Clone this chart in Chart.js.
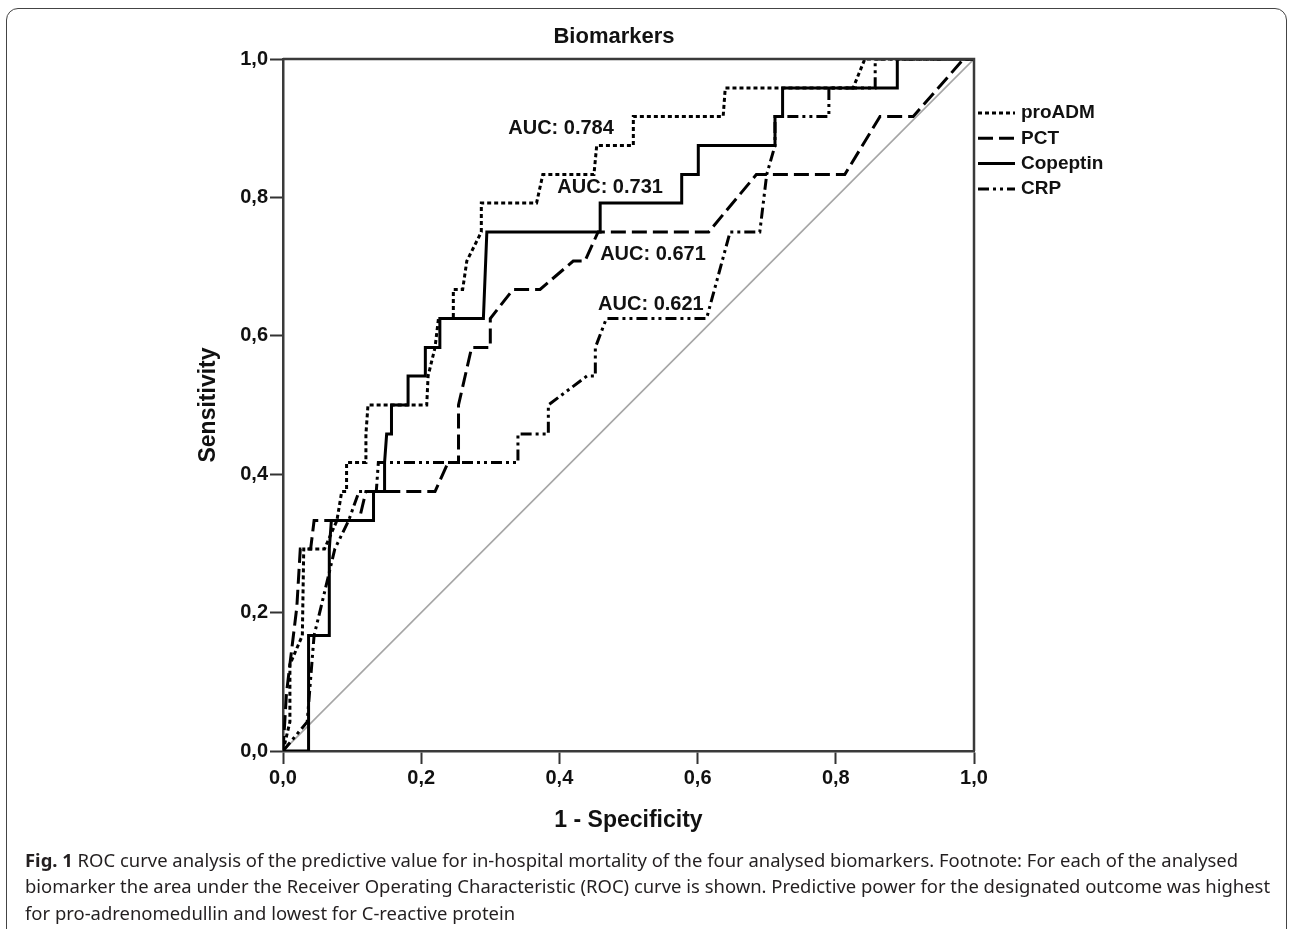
<!DOCTYPE html>
<html>
<head>
<meta charset="utf-8">
<script src="https://cdn.jsdelivr.net/npm/chart.js@4.4.0/dist/chart.umd.min.js"></script>
<style>
  body { margin: 0; background: #fff; }
  #wrap { position: relative; width: 1292px; height: 929px; overflow: hidden; }
  #frame { position: absolute; left: 6px; top: 8px; width: 1279px; height: 940px; border: 1.5px solid #444; border-radius: 12px; }
  #chart { position: absolute; left: 0; top: 0; }
  #caption { position: absolute; left: 25px; top: 847px; font-family: 'Noto Sans', sans-serif; font-size: 18.45px; line-height: 26.3px; color: #231f20; white-space: nowrap; }
</style>
</head>
<body>
<div id="wrap">
  <div id="frame"></div>
  <canvas id="chart" width="1292" height="850"></canvas>
  <div id="caption"><b>Fig. 1</b> ROC curve analysis of the predictive value for in-hospital mortality of the four analysed biomarkers. Footnote: For each of the analysed<br>biomarker the area under the Receiver Operating Characteristic (ROC) curve is shown. Predictive power for the designated outcome was highest<br>for pro-adrenomedullin and lowest for C-reactive protein</div>
</div>
<script>
// tick labels (SPSS style, decimal comma)
const tickText = ['0,0', '0,2', '0,4', '0,6', '0,8', '1,0'];

// ROC curves: 1 - specificity (x) and sensitivity (y)
const proadmX = [0, 0.01, 0.01, 0.028, 0.03, 0.06, 0.078, 0.085, 0.092, 0.092, 0.12, 0.12, 0.123, 0.208, 0.21, 0.22, 0.225, 0.2465, 0.2465, 0.26, 0.266, 0.287, 0.287, 0.367, 0.376, 0.45, 0.454, 0.507, 0.507, 0.637, 0.64, 0.825, 0.842, 1];
const proadmY = [0, 0.042, 0.125, 0.167, 0.292, 0.292, 0.333, 0.375, 0.375, 0.417, 0.417, 0.458, 0.5, 0.5, 0.542, 0.583, 0.625, 0.625, 0.667, 0.667, 0.708, 0.75, 0.792, 0.792, 0.833, 0.833, 0.875, 0.875, 0.917, 0.917, 0.958, 0.958, 1, 1];

const pctX = [0, 0.005, 0.01, 0.02, 0.025, 0.04, 0.045, 0.11, 0.12, 0.22, 0.239, 0.254, 0.254, 0.273, 0.30, 0.30, 0.333, 0.372, 0.42, 0.437, 0.456, 0.616, 0.685, 0.813, 0.864, 0.912, 0.985, 1];
const pctY = [0, 0.083, 0.125, 0.208, 0.292, 0.292, 0.333, 0.333, 0.375, 0.375, 0.417, 0.417, 0.5, 0.583, 0.583, 0.625, 0.667, 0.667, 0.708, 0.708, 0.75, 0.75, 0.833, 0.833, 0.917, 0.917, 1, 1];

const copeptinX = [0, 0.037, 0.037, 0.067, 0.067, 0.07, 0.131, 0.131, 0.147, 0.147, 0.15, 0.157, 0.157, 0.181, 0.181, 0.206, 0.206, 0.227, 0.227, 0.29, 0.295, 0.459, 0.459, 0.577, 0.577, 0.601, 0.601, 0.712, 0.712, 0.723, 0.723, 0.889, 0.889, 1];
const copeptinY = [0, 0, 0.167, 0.167, 0.292, 0.333, 0.333, 0.375, 0.375, 0.417, 0.458, 0.458, 0.5, 0.5, 0.542, 0.542, 0.583, 0.583, 0.625, 0.625, 0.75, 0.75, 0.792, 0.792, 0.833, 0.833, 0.875, 0.875, 0.917, 0.917, 0.958, 0.958, 1, 1];

const crpX = [0, 0.035, 0.045, 0.055, 0.065, 0.075, 0.095, 0.11, 0.135, 0.138, 0.34, 0.34, 0.384, 0.384, 0.44, 0.452, 0.452, 0.468, 0.613, 0.647, 0.69, 0.70, 0.712, 0.712, 0.79, 0.79, 0.857, 0.857, 1];
const crpY = [0, 0.042, 0.167, 0.208, 0.25, 0.292, 0.333, 0.375, 0.375, 0.417, 0.417, 0.458, 0.458, 0.5, 0.542, 0.542, 0.583, 0.625, 0.625, 0.75, 0.75, 0.833, 0.875, 0.917, 0.917, 0.958, 0.958, 1, 1];

// reference line
const refX = [0, 1];
const refY = [0, 1];

const seriesNames = ['proADM', 'PCT', 'Copeptin', 'CRP'];
const aucText = ['AUC: 0.784', 'AUC: 0.731', 'AUC: 0.671', 'AUC: 0.621'];

// label anchors (data units, left edge / middle)
const aucAnchors = [[0.326, 0.899], [0.397, 0.814], [0.459, 0.717], [0.456, 0.645]];

const FONT = "'Liberation Sans', Arial, sans-serif";
const dashes = [[4, 3], [15, 6], [], [11, 4, 3, 4, 3, 4]];

function pts(xs, ys) {
    return xs.map((v, i) => ({ x: v, y: ys[i] }));
}

function lineSet(label, xs, ys, dash) {
    return {
        label: label,
        data: pts(xs, ys),
        borderColor: '#000',
        borderWidth: 3,
        borderDash: dash,
        borderCapStyle: 'butt',
        borderJoinStyle: 'miter',
        pointRadius: 0,
        tension: 0,
        fill: false
    };
}

const decoPlugin = {
    id: 'deco',
    afterDraw(chart) {
        const { ctx, chartArea: a, scales: { x, y } } = chart;
        ctx.save();

        // top + right frame of plot
        ctx.strokeStyle = '#3a3a3a';
        ctx.lineWidth = 2.5;
        ctx.beginPath();
        ctx.moveTo(a.left, a.top);
        ctx.lineTo(a.right, a.top);
        ctx.lineTo(a.right, a.bottom);
        ctx.stroke();

        ctx.fillStyle = '#111';
        ctx.textBaseline = 'middle';

        // title
        ctx.font = 'bold 22px ' + FONT;
        ctx.textAlign = 'center';
        ctx.fillText('Biomarkers', 614, 37);

        // axis titles
        ctx.font = 'bold 23px ' + FONT;
        ctx.fillText('1 - Specificity', (a.left + a.right) / 2, 821);
        ctx.save();
        ctx.translate(209, (a.top + a.bottom) / 2);
        ctx.rotate(-Math.PI / 2);
        ctx.fillText('Sensitivity', 0, 0);
        ctx.restore();

        // AUC labels
        ctx.font = 'bold 20px ' + FONT;
        ctx.textAlign = 'left';
        aucText.forEach((t, i) => {
            ctx.fillText(t, x.getPixelForValue(aucAnchors[i][0]), y.getPixelForValue(aucAnchors[i][1]));
        });

        // legend
        ctx.font = 'bold 19px ' + FONT;
        const lx = a.right + 4;
        seriesNames.forEach((name, i) => {
            const ly = 113 + i * 25.3;
            ctx.strokeStyle = '#000';
            ctx.lineWidth = 3;
            ctx.setLineDash(dashes[i]);
            ctx.beginPath();
            ctx.moveTo(lx, ly);
            ctx.lineTo(lx + 37, ly);
            ctx.stroke();
            ctx.setLineDash([]);
            ctx.fillText(name, lx + 43, ly);
        });

        ctx.restore();
    }
};

const axisFont = { family: FONT, size: 20, weight: 'bold' };

new Chart(document.getElementById('chart').getContext('2d'), {
    type: 'line',
    data: {
        datasets: [
            lineSet(seriesNames[0], proadmX, proadmY, dashes[0]),
            lineSet(seriesNames[1], pctX, pctY, dashes[1]),
            lineSet(seriesNames[2], copeptinX, copeptinY, dashes[2]),
            lineSet(seriesNames[3], crpX, crpY, dashes[3]),
            {
                label: 'ref',
                data: pts(refX, refY),
                borderColor: '#a6a6a6',
                borderWidth: 1.6,
                pointRadius: 0,
                fill: false
            }
        ]
    },
    options: {
        responsive: false,
        animation: false,
        layout: { padding: { left: 0, top: 59, right: 318, bottom: 0 } },
        plugins: { legend: { display: false }, title: { display: false }, tooltip: { enabled: false } },
        scales: {
            x: {
                type: 'linear', min: 0, max: 1,
                ticks: { stepSize: 0.2, callback: (v, i) => tickText[i], color: '#111', font: axisFont, padding: 2, maxRotation: 0 },
                grid: { drawOnChartArea: false, drawTicks: true, tickLength: 13, tickColor: '#333', tickWidth: 2 },
                border: { display: true, color: '#3a3a3a', width: 2.5 },
                afterFit: s => { s.height = 99; }
            },
            y: {
                type: 'linear', min: 0, max: 1,
                ticks: { stepSize: 0.2, callback: (v, i) => tickText[i], color: '#111', font: axisFont, padding: 2 },
                grid: { drawOnChartArea: false, drawTicks: true, tickLength: 13, tickColor: '#333', tickWidth: 2 },
                border: { display: true, color: '#3a3a3a', width: 2.5 },
                afterFit: s => { s.width = 283; }
            }
        }
    },
    plugins: [decoPlugin]
});
</script>
</body>
</html>
